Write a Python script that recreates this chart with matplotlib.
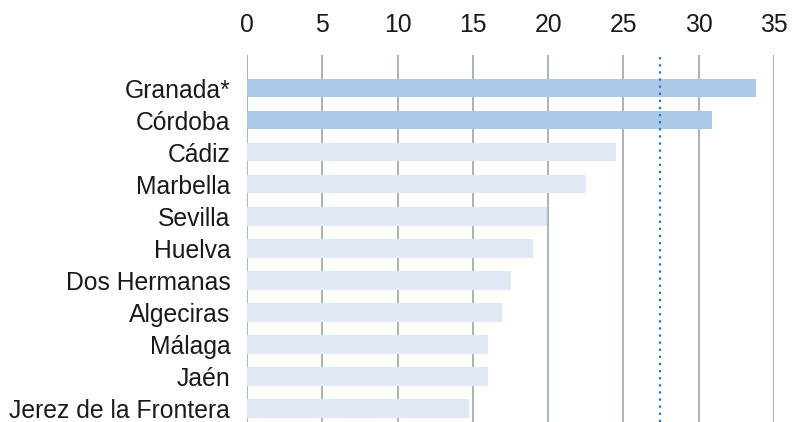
import matplotlib.pyplot as plt

cities = ['Granada*', 'Córdoba', 'Cádiz', 'Marbella', 'Sevilla', 'Huelva',
          'Dos Hermanas', 'Algeciras', 'Málaga', 'Jaén', 'Jerez de la Frontera']
values = [33.8, 30.9, 24.5, 22.5, 19.9, 19.0, 17.5, 16.95, 16.0, 16.0, 14.75]
highlight = [True, True, False, False, False, False, False, False, False, False, False]
reference = 27.45
xticks = [0, 5, 10, 15, 20, 25, 30, 35]

plt.rcParams['font.family'] = ['Liberation Sans', 'DejaVu Sans']

fig = plt.figure(figsize=(7.94, 4.22), dpi=100)
ax = fig.add_axes([247 / 794, 0, 527 / 794, 1 - 55 / 422])

colors = ['#adc8e6' if h else '#e1e8f5' for h in highlight]
ypos = list(range(len(cities)))

for x in xticks:
    ax.axvline(x, color='#9ea8a3', linewidth=1.2, zorder=0)
ax.barh(ypos, values, height=0.58, color=colors, zorder=2)
ax.axvline(reference, color='#1a78c2', linewidth=1.6, linestyle=(0, (1, 2.2)), zorder=3)

ax.set_xlim(0, 35)
ax.set_ylim(10.42, -1.03)
ax.set_xticks(xticks)
ax.set_yticks(ypos)
ax.set_yticklabels(cities, fontsize=17.8, color='#1a1a1a')
ax.xaxis.tick_top()
ax.tick_params(axis='x', length=0, pad=13, labelsize=17.8, labelcolor='#1a1a1a')
ax.tick_params(axis='y', length=0, pad=12)
for s in ax.spines.values():
    s.set_visible(False)

fig.savefig('out.png', dpi=100)
